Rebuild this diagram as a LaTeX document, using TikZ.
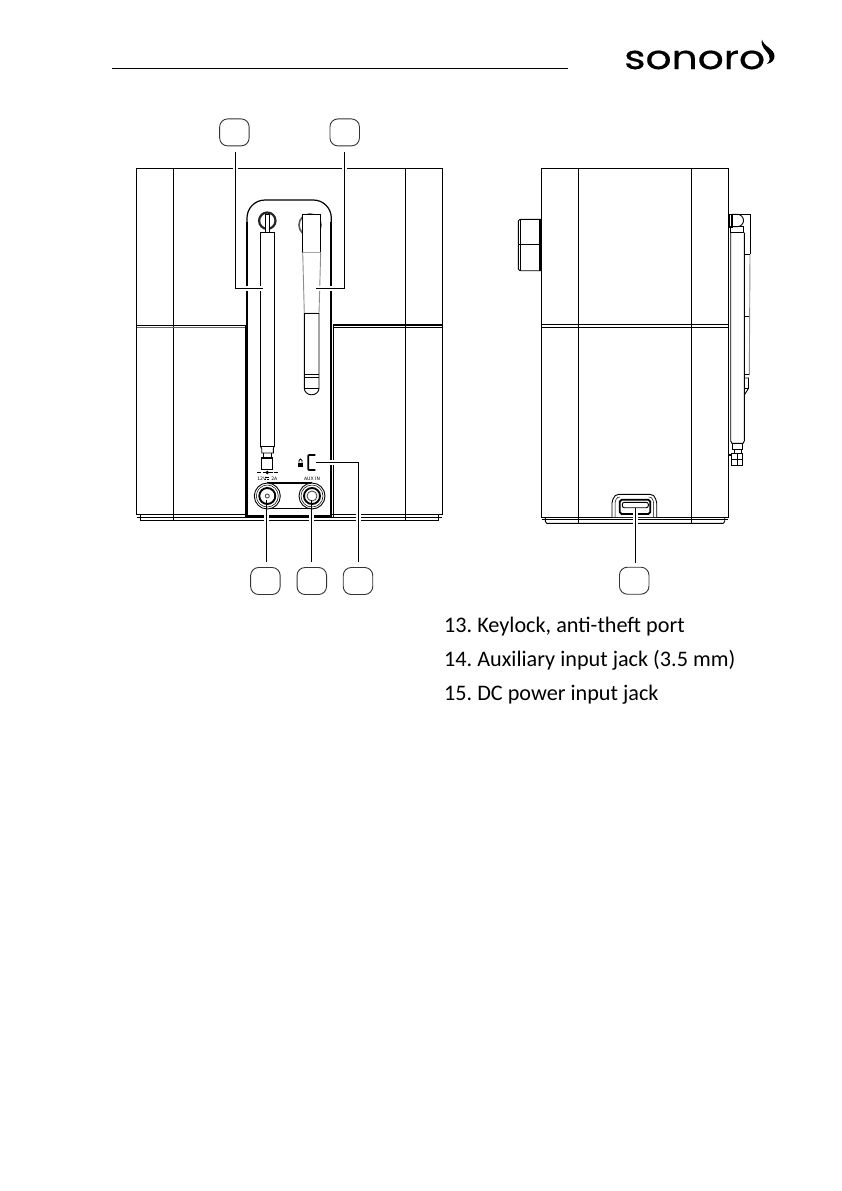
\documentclass[tikz,border=0pt]{standalone}
\usepackage{fontspec}
\setmainfont{Carlito}
\newfontfamily\logofont{Poppins}[FakeBold=0.5]
\newfontfamily\tinyfont{DejaVu Sans}
\tikzset{
  ln/.style={draw=black,line width=0.9pt},
  thinln/.style={draw=black,line width=0.5pt},
  thickln/.style={draw=black,line width=1.6pt},
  greyln/.style={draw=black!45,line width=0.9pt},
  callout/.style={draw=black!80,line width=0.9pt,rounded corners=8pt,minimum width=29.5pt,minimum height=27pt,inner sep=0pt},
  leader/.style={draw=black,line width=0.9pt},
  halo/.style={draw=white,line width=4.5pt},
  item/.style={anchor=base west,inner sep=0pt,font=\frenchspacing\fontsize{22.2}{26}\selectfont},
  jacklabel/.style={inner sep=0pt,font=\tinyfont\fontsize{4.6}{5}\selectfont}
}
\begin{document}
\begin{tikzpicture}[x=1pt,y=-1pt]
\useasboundingbox (0,0) rectangle (841,1191);
\fill[white] (0,0) rectangle (841,1191);
% header
\draw[line width=1.3pt] (112,68.8) -- (568,68.8);
\node[anchor=base west,inner sep=0pt,font=\logofont\fontsize{33}{36}\selectfont,xscale=1.235] (logo) at (624,69) {sonoro};
\fill (762,39.5) .. controls (763,46) and (774.5,49) .. (774.5,56) .. controls (774.5,60) and (772,63) .. (767,64) .. controls (770,61) and (770.5,58) .. (769,55) .. controls (767,51) and (760,47) .. (762,39.5) -- cycle;
% ---------- left view ----------
\draw[ln] (136.7,514.7) -- (136.7,168.7) -- (442.3,168.7) -- (442.3,514.7) -- cycle;
\draw[ln] (173.3,168.7) -- (173.3,520);
\draw[ln] (405.3,168.7) -- (405.3,520);
\draw[ln] (140.3,514.7) -- (140.3,520) -- (438.3,520) -- (438.3,514.7);
\draw[thinln] (136.7,517) -- (442.3,517);
\draw[ln] (136.7,325) -- (245,325);
\draw[thinln,black!60] (136.7,327.3) -- (245,327.3);
\draw[thickln] (333.3,325) -- (442.3,325);
\draw[ln] (333.3,327.5) -- (442.3,327.5);
% panel
\fill[white] (247,515.7) -- (247,200) -- (331.3,200) -- (331.3,515.7) -- cycle;
\draw[draw=black,line width=1.2pt,rounded corners=18pt] (247,240) -- (247,200) -- (331.3,200) -- (331.3,240);
\draw[thickln] (247,222) -- (247,516.5);
\draw[thickln] (331,222) -- (331,516.5);
\draw[ln] (245,325) -- (245,516.5);
\draw[ln] (333.3,325) -- (333.3,516.5);
\draw[thickln] (246,515.7) -- (332,515.7);
% left antenna
\draw[line width=2.2pt,black!85] (267.3,220.7) circle[radius=8.2];
\draw[ln,fill=white] (265.5,214) rectangle (269,232.7);
\draw[ln,fill=white] (260.3,232.7) rectangle (274.3,446);
\draw[ln] (260.3,446) -- (261.7,448.5) -- (261.7,453) -- (273.3,453) -- (273.3,448.5) -- (274.3,446);
\draw[ln] (263.5,453) -- (263.5,457.3) (271,453) -- (271,457.3);
\draw[thickln] (261.7,457.8) -- (272.3,457.8);
\draw[ln] (261.7,457.3) rectangle (272.3,469);
% polarity symbol
\draw[line width=0.6pt] (257,472.5) -- (261,472.5) (273.5,472.5) -- (277.5,472.5);
\fill (267.3,472.5) circle[radius=1.9];
\draw[line width=0.6pt] (262.5,472.5) -- (272.5,472.5);
\node[jacklabel] (lbl12) at (267.3,478.5) {12V\hspace{5pt}2A};
\draw[line width=0.4pt] (265.3,477.6) -- (269.3,477.6);
\draw[line width=0.4pt,dash pattern=on 1pt off 0.5pt] (265.3,479) -- (269.3,479);
\node[jacklabel] (lblaux) at (312,478.5) {AUX IN};
% right antenna
\draw[line width=1.6pt,black!65] (310,225) circle[radius=11];
\draw[ln,fill=white] (302.7,214.3) rectangle (320.7,252.3);
\draw[greyln,fill=white] (302.7,252.3) -- (304.3,313.3) -- (319,313.3) -- (320.7,252.3);
\draw[ln] (304.3,313.3) -- (319,313.3);
\draw[ln] (304.3,313.3) -- (304.3,388.3) arc[start angle=180,end angle=0,x radius=7.35,y radius=6.5] -- (319,313.3);
\draw[line width=1.5pt] (304.3,374.5) -- (319,374.5);
\draw[ln] (304.3,377.7) -- (319,377.7);
\draw[ln] (304.3,388.3) -- (319,388.3);
% lock
\draw[line width=1.8pt,rounded corners=1pt] (315.3,455) -- (308.2,455) -- (308.2,470) -- (315.3,470);
\fill (298,462.5) rectangle (303,467);
\draw[line width=0.9pt] (299,462.5) -- (299,460.5) arc[start angle=180,end angle=360,radius=1.5] -- (302,462.5);
% jacks
\draw[thickln] (267.3,482.9) -- (312,482.9);
\draw[ln] (267.3,508.3) -- (312,508.3);
\foreach \cx/\rb/\rs in {267.3/8/2, 312/8/5}{
  \draw[ln,fill=white] (\cx,496) circle[radius=13];
  \draw[thinln] (\cx,496) circle[radius=11];
  \draw[line width=1.9pt] (\cx,496) circle[radius=\rb];
  \draw[ln,black!70] (\cx,496) circle[radius=\rs];
}
% ---------- right view ----------
\draw[ln] (541.7,517) -- (541.7,168.3) -- (728.6,168.3) -- (728.6,517) -- cycle;
\draw[ln] (578.3,168.3) -- (578.3,523);
\draw[ln] (691.3,168.3) -- (691.3,523);
\draw[thickln] (541.7,324.5) -- (728.3,324.5);
\draw[ln] (541.7,327.5) -- (728.3,327.5);
\draw[ln] (545.3,517) -- (545.3,521.5) -- (546.8,523.3) -- (723.2,523.3) -- (724.7,521.5) -- (724.7,517);
\draw[thinln] (541.7,518.8) -- (728.3,518.8);
% knob
\draw[ln] (541,219.3) -- (520,219.3) -- (518.3,221) -- (518.3,269) -- (520,270.7) -- (541,270.7);
\draw[ln] (520,219.3) -- (520,270.7);
\draw[ln] (518.3,244.3) -- (540,244.3);
\draw[line width=2pt] (540,219.3) -- (540,270.7);
% side antenna
\draw[ln] (729,214.3) -- (750,214.3) -- (750,254.3);
\draw[greyln] (750,254.3) -- (749.3,375);
\draw[ln] (744.3,254.3) -- (750,254.3);
\draw[ln] (744.3,316) -- (749.3,316);
\draw[line width=1.5pt] (744.3,374.7) -- (748.5,374.7);
\draw[ln] (744.3,378) -- (748.5,378) -- (748.5,388.3) -- (744.3,395);
\draw[ln] (744.3,388.3) -- (748.5,388.3);
\draw[ln] (730.7,226.7) rectangle (743.3,232.7);
\draw[thickln] (729.5,214.3) rectangle (732,226.7);
\draw[ln] (732,214.3) -- (737.3,214.3) arc[start angle=-90,end angle=90,radius=6.2] -- (732,226.7);
\draw[ln] (730.7,232.7) -- (730.7,441) -- (732,443.3) -- (743,443.3) -- (744.3,441) -- (744.3,232.7);
\draw[ln] (732,443.3) -- (732,449) -- (742.5,449) -- (742.5,443.3);
\draw[ln] (734,449) -- (734,453) (741,449) -- (741,453);
\draw[ln] (731.7,453.3) rectangle (742.7,465);
\draw[ln] (731.7,459) -- (742.7,459) (737.2,453.3) -- (737.2,465);
\draw[line width=2pt] (729,455) -- (732,455);
% usb recess
\draw[ln,fill=white] (612,517) -- (612,503) -- (613,499) .. controls (614,496) and (616,494.3) .. (619,494.3) -- (649.7,494.3) .. controls (652.7,494.3) and (655,496) .. (655.7,499) -- (656.7,503) -- (656.7,517);
\draw[thinln] (615,517) -- (615,503) -- (616,499.5) .. controls (617,497.5) and (618,497) .. (620,497);
\draw[thinln] (653.7,517) -- (653.7,503) -- (652.7,499.5) .. controls (651.7,497.5) and (650.7,497) .. (648.7,497);
\draw[line width=1.7pt,rounded corners=1.8pt] (619.8,499.8) rectangle (650.2,514);
\draw[ln,rounded corners=2pt] (622.3,502.3) rectangle (648.3,507.7);
% ---------- callouts ----------
\node[callout] (c1) at (234.4,132.4) {};
\node[callout] (c2) at (344.7,132.4) {};
\node[callout] (c3) at (265.4,581) {};
\node[callout] (c4) at (311.8,581) {};
\node[callout] (c5) at (358,581) {};
\node[callout] (c6) at (634.2,580.7) {};
\coordinate (t1) at (262.7,288.3);
\coordinate (t2) at (316.3,288.3);
\coordinate (t3) at (266.7,500);
\coordinate (t4) at (311.7,500);
\coordinate (t5) at (316,462.3);
\coordinate (t6) at (635.3,508);
\coordinate (c1s) at (235.3,152);
\coordinate (c2s) at (344.3,152);
\coordinate (c3s) at (266.7,561.7);
\coordinate (c4s) at (311.7,561.7);
\coordinate (c5s) at (358.7,561.7);
\coordinate (c6s) at (635.3,562.7);
\foreach \s/\e in {c1s/t1,c2s/t2}{
  \draw[halo] (\s) |- (\e);
  \draw[leader] (\s) |- (\e);
}
\draw[halo] ([yshift=-11]t3) -- (c3s);
\draw[halo] ([yshift=-11]t4) -- (c4s);
\draw[halo] (t5) -| (c5s);
\draw[halo] ([yshift=-5]t6) -- (c6s);
\draw[leader] (t3) -- (c3s);
\draw[leader] (t4) -- (c4s);
\draw[leader] (t5) -| (c5s);
\draw[leader] (t6) -- (c6s);
% ---------- list ----------
\node[item] (i13) at (444,632) {13. Keylock, anti-theft port};
\node[item] (i14) at (444,666) {14. Auxiliary input jack (3.5 mm)};
\node[item] (i15) at (444,700) {15. DC power input jack};
\end{tikzpicture}
\end{document}
